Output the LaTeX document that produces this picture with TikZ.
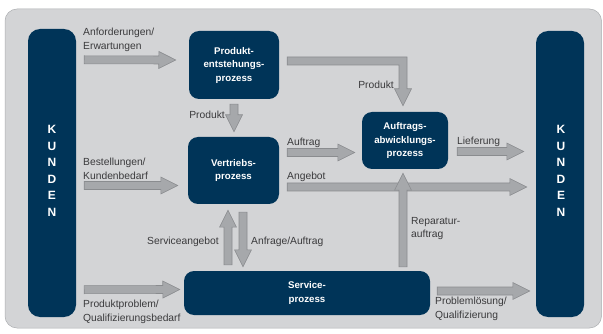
\documentclass[tikz,border=0pt]{standalone}
\usepackage{fontspec}
\setmainfont{Liberation Sans}
\usetikzlibrary{calc}

\definecolor{navy}{RGB}{0,52,88}
\definecolor{panel}{RGB}{211,212,214}
\definecolor{panelrim}{RGB}{172,174,177}
\definecolor{arrowfill}{RGB}{166,168,171}
\definecolor{arrowrim}{RGB}{138,140,143}
\definecolor{labeltext}{RGB}{58,58,60}

% block arrow geometry
\newcommand\baShaft{4pt}
\newcommand\baHead{8.5pt}
\newcommand\baLen{17pt}

% straight block arrow between two named coordinates
\newcommand\blockarrow[2]{%
  \coordinate (ba-base) at ($(#2)!\baLen!(#1)$);
  \path[arrowbody]
    ($(#1)!\baShaft!90:(#2)$) --
    ($(ba-base)!\baShaft!90:(#2)$) --
    ($(ba-base)!\baHead!90:(#2)$) --
    (#2) --
    ($(ba-base)!\baHead!-90:(#2)$) --
    ($(ba-base)!\baShaft!-90:(#2)$) --
    ($(#1)!\baShaft!-90:(#2)$) -- cycle;}

\tikzset{
  procbox/.style={fill=navy, rounded corners=10pt, inner sep=0pt, text=white,
    font=\bfseries\fontsize{9.7}{13.5}\selectfont, align=center},
  kundenbar/.style={fill=navy, rounded corners=12pt, inner sep=0pt},
  kundentext/.style={text=white, font=\bfseries\fontsize{12}{16.5}\selectfont,
    align=center, inner sep=0pt},
  flowlabel/.style={text=labeltext, font=\fontsize{10.3}{13.8}\selectfont,
    inner sep=0pt, align=left},
  arrowbody/.style={fill=arrowfill, draw=arrowrim, line width=0.6pt, line join=miter},
}

\begin{document}
\begin{tikzpicture}[x=1pt,y=-1pt]
\useasboundingbox (0,0) rectangle (603,334);
\fill[white] (0,0) rectangle (603,334);
\path[fill=panel, draw=panelrim, line width=0.5pt, rounded corners=12pt]
  (5,9) rectangle (601.5,328);

% customer bars
\node[kundenbar, minimum width=48pt, minimum height=288pt] (kl) at (52,173) {};
\node[kundenbar, minimum width=48pt, minimum height=286pt] (kr) at (560,174) {};
\node[kundentext] (kltext) at ($(kl)+(0,-2)$) {K\\U\\N\\D\\E\\N};
\node[kundentext] (krtext) at ($(kr)+(1,-3)$) {K\\U\\N\\D\\E\\N};

% process boxes
\node[procbox, minimum width=90pt, minimum height=68pt] (pe) at (234,65)
  {Produkt-\\entstehungs-\\prozess};
\node[procbox, minimum width=91pt, minimum height=67pt] (vp) at (233.5,170.5)
  {Vertriebs-\\prozess};
\node[procbox, minimum width=86pt, minimum height=57pt] (aa) at (405,140.5)
  {Auftrags-\\abwicklungs-\\prozess};
\node[procbox, minimum width=246pt, minimum height=44pt] (sp) at (307,293)
  {Service-\\prozess};

% arrow end points
\coordinate (anf-s)  at ($(kl.north east)+(8,31)$);
\coordinate (anf-t)  at ($(pe.west)+(-13,-5)$);
\coordinate (best-s) at ($(kl.east)+(8,12.5)$);
\coordinate (best-t) at ($(vp.west)+(-10,15)$);
\coordinate (prob-s) at ($(kl.south east)+(8,-27.5)$);
\coordinate (prob-t) at ($(sp.west)+(-4,-3.5)$);
\coordinate (prod-s) at ($(pe.south)+(0,5)$);
\coordinate (prod-t) at ($(vp.north)+(0.5,-5)$);
\coordinate (pb-s)   at ($(pe.east)+(8,-4)$);
\coordinate (pb-t)   at ($(aa.north)+(-2,-6)$);
\coordinate (auf-s)  at ($(vp.east)+(8,-18)$);
\coordinate (auf-t)  at ($(aa.west)+(-7,12)$);
\coordinate (ang-s)  at ($(vp.east)+(8,16.5)$);
\coordinate (ang-t)  at ($(kr.west)+(-9,13)$);
\coordinate (rep-s)  at ($(sp.north)+(96,-4)$);
\coordinate (rep-t)  at ($(aa.south)+(-2,4)$);
\coordinate (sang-s) at ($(sp.north)+(-79,-6)$);
\coordinate (sang-t) at ($(vp.south)+(-5.5,6)$);
\coordinate (anfr-s) at ($(vp.south)+(9.5,8)$);
\coordinate (anfr-t) at ($(sp.north)+(-64,-4)$);
\coordinate (lief-s) at ($(aa.east)+(9,11)$);
\coordinate (lief-t) at ($(kr.west)+(-12,-22.5)$);
\coordinate (plo-s)  at ($(sp.east)+(7,-2)$);
\coordinate (plo-t)  at ($(kr.west)+(-6,117)$);

% arrows
\blockarrow{anf-s}{anf-t}
\blockarrow{best-s}{best-t}
\blockarrow{prob-s}{prob-t}
\blockarrow{prod-s}{prod-t}
\path[arrowbody] let \p1=(pb-s), \p2=(pb-t) in
  (\x1,\y1+\baShaft) -- (\x2+\baShaft,\y1+\baShaft) -- (\x2+\baShaft,\y2+\baLen) --
  (\x2+\baHead,\y2+\baLen) -- (\x2,\y2) -- (\x2-\baHead,\y2+\baLen) --
  (\x2-\baShaft,\y2+\baLen) -- (\x2-\baShaft,\y1-\baShaft) -- (\x1,\y1-\baShaft) -- cycle;
\blockarrow{auf-s}{auf-t}
\blockarrow{ang-s}{ang-t}
\blockarrow{rep-s}{rep-t}
\blockarrow{sang-s}{sang-t}
\blockarrow{anfr-s}{anfr-t}
\blockarrow{lief-s}{lief-t}
\blockarrow{plo-s}{plo-t}

% labels
\node[flowlabel, anchor=west] (l-anf)  at (83,40)    {Anforderungen/\\Erwartungen};
\node[flowlabel, anchor=west] (l-best) at (83,168.5) {Bestellungen/\\Kundenbedarf};
\node[flowlabel, anchor=west] (l-prob) at (83,312)   {Produktproblem/\\Qualifizierungsbedarf};
\node[flowlabel, anchor=mid east] (l-prod1) at (225,116) {Produkt};
\node[flowlabel, anchor=mid east] (l-prod2) at (394,86)  {Produkt};
\node[flowlabel, anchor=mid west] (l-auf)  at (287,143) {Auftrag};
\node[flowlabel, anchor=mid west] (l-ang)  at (287,177) {Angebot};
\node[flowlabel, anchor=west] (l-rep)  at (411,228.5) {Reparatur-\\auftrag};
\node[flowlabel, anchor=mid east] (l-sang) at (219,242) {Serviceangebot};
\node[flowlabel, anchor=mid west] (l-anfr) at (251,242) {Anfrage/Auftrag};
\node[flowlabel, anchor=mid west] (l-lief) at (457,142) {Lieferung};
\node[flowlabel, anchor=west] (l-plo)  at (435,309) {Problemlösung/\\Qualifizierung};
\end{tikzpicture}
\end{document}
